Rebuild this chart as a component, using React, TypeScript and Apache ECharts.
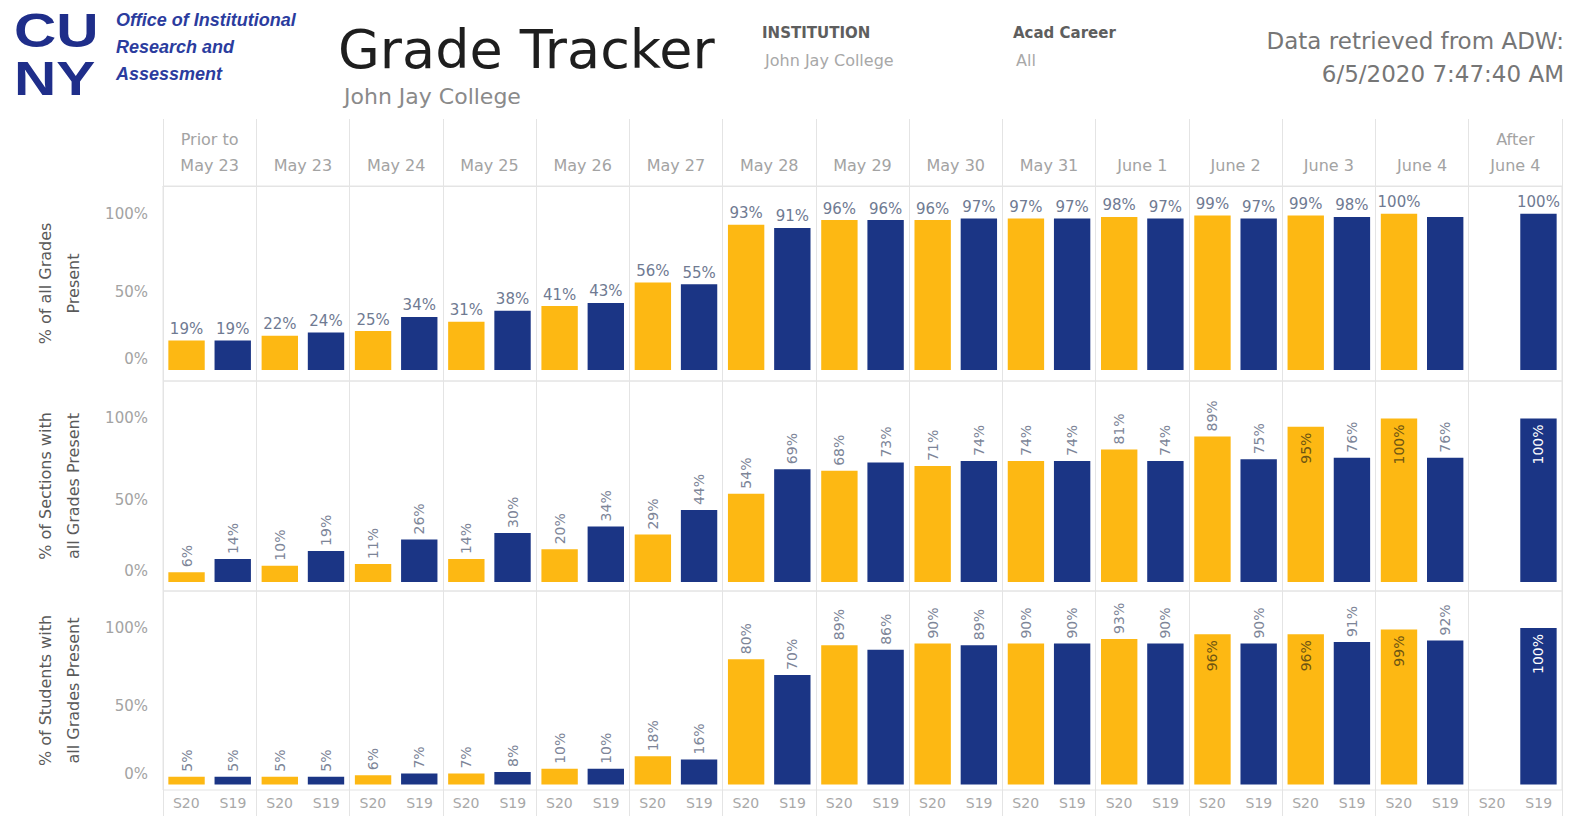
import React, { useEffect, useRef } from 'react';
import * as echarts from 'echarts';

// ---- data ----
const categories = [
  'Prior to\nMay 23', 'May 23', 'May 24', 'May 25', 'May 26', 'May 27', 'May 28',
  'May 29', 'May 30', 'May 31', 'June 1', 'June 2', 'June 3', 'June 4', 'After\nJune 4',
];
const termLabels = ['S20', 'S19'];

const s20Grades = [19, 22, 25, 31, 41, 56, 93, 96, 96, 97, 98, 99, 99, 100, null];
const s19Grades = [19, 24, 34, 38, 43, 55, 91, 96, 97, 97, 97, 97, 98, 98, 100];

const s20Sections = [6, 10, 11, 14, 20, 29, 54, 68, 71, 74, 81, 89, 95, 100, null];
const s19Sections = [14, 19, 26, 30, 34, 44, 69, 73, 74, 74, 74, 75, 76, 76, 100];

const s20Students = [5, 5, 6, 7, 10, 18, 80, 89, 90, 90, 93, 96, 96, 99, null];
const s19Students = [5, 5, 7, 8, 10, 16, 70, 86, 89, 90, 90, 90, 91, 92, 100];

const panelNames = [
  '% of all Grades\nPresent',
  '% of Sections with\nall Grades Present',
  '% of Students with\nall Grades Present',
];
const yTicks = [0, 50, 100];
const hiddenLabels = [{ panel: 0, term: 'S19', category: 'June 4' }];

const GOLD = '#FDB813';
const NAVY = '#1B3585';
const FONT = 'DejaVu Sans';

export default function App() {
  const ref = useRef<HTMLDivElement>(null);

  useEffect(() => {
    document.body.style.margin = '0';
    if (!ref.current) return;
    const chart = echarts.init(ref.current, undefined, { renderer: 'svg' });

    const panels = [
      { s20: s20Grades, s19: s19Grades, rotated: false, top: 186, height: 195, min: -7, max: 117.8 },
      { s20: s20Sections, s19: s19Sections, rotated: true, top: 381, height: 210, min: -5.5, max: 122.9 },
      { s20: s20Students, s19: s19Students, rotated: true, top: 591, height: 199, min: -3.5, max: 123.6 },
    ];

    const gridLeft = 163;
    const gridRight = 19;
    const lineColor = '#e4e4e4';

    const grids: any[] = [
      { left: gridLeft, right: gridRight, top: 119, height: 67, show: false },
      ...panels.map((p) => ({
        left: gridLeft, right: gridRight, top: p.top, height: p.height,
        show: true, borderColor: lineColor, borderWidth: 1,
      })),
      { left: gridLeft, right: gridRight, top: 790, height: 26, show: false },
    ];

    const xAxes: any[] = [
      {
        gridIndex: 0, type: 'category', data: categories, position: 'bottom',
        axisLine: { show: true, lineStyle: { color: lineColor } },
        axisTick: { show: false },
        axisLabel: { inside: true, margin: 8, color: '#a3a3a3', fontSize: 16, lineHeight: 26, fontFamily: FONT, interval: 0 },
        splitLine: { show: true, lineStyle: { color: lineColor } },
      },
      ...panels.map((_, i) => ({
        gridIndex: i + 1, type: 'category', data: categories,
        axisLine: { show: false }, axisTick: { show: false }, axisLabel: { show: false },
        splitLine: { show: true, lineStyle: { color: lineColor } },
      })),
      {
        gridIndex: 4, type: 'category', position: 'top',
        data: categories.flatMap(() => termLabels),
        axisLine: { show: false }, axisTick: { show: false },
        axisLabel: { inside: true, margin: 6, color: '#a8a8a8', fontSize: 14, fontFamily: FONT, interval: 0 },
        splitLine: { show: true, interval: (idx: number) => idx % 2 === 0, lineStyle: { color: lineColor } },
      },
    ];

    const yAxes: any[] = [
      { gridIndex: 0, type: 'value', show: false },
      ...panels.map((p, i) => ({
        gridIndex: i + 1, type: 'value', min: p.min, max: p.max,
        axisLine: { show: false }, axisTick: { show: false }, splitLine: { show: false },
        axisLabel: {
          customValues: yTicks, margin: 15, color: '#a3a3a3', fontSize: 15, fontFamily: FONT,
          formatter: (v: number) => (v === 0 ? '{z|0%}' : v + '%'),
          rich: { z: { padding: [0, 0, 22, 0], color: '#a3a3a3', fontSize: 15, fontFamily: FONT } },
        },
        name: panelNames[i], nameLocation: 'middle', nameRotate: 90, nameGap: 76,
        nameTextStyle: { color: '#5a5a5a', fontSize: 16, lineHeight: 28, fontFamily: FONT },
      })),
      { gridIndex: 4, type: 'value', show: false },
    ];

    const series: any[] = [];
    panels.forEach((p, pi) => {
      [p.s20, p.s19].forEach((vals, si) => {
        const term = termLabels[si];
        const data = vals.map((v, ci) => {
          if (v == null) return null;
          const hidden = hiddenLabels.some(
            (h) => h.panel === pi && h.term === term && h.category === categories[ci],
          );
          if (hidden) return { value: v, label: { show: false } };
          if (p.rotated && v >= 95) {
            return {
              value: v,
              label: {
                position: 'insideTop', align: 'right', verticalAlign: 'middle', distance: 6,
                color: si === 0 ? '#6e5512' : '#ffffff',
              },
            };
          }
          return v;
        });
        series.push({
          type: 'bar', name: term, xAxisIndex: pi + 1, yAxisIndex: pi + 1,
          barWidth: '39%', barGap: '27%',
          itemStyle: { color: si === 0 ? GOLD : NAVY },
          data,
          label: p.rotated
            ? {
                show: true, position: 'top', rotate: 90, align: 'left', verticalAlign: 'middle',
                distance: 5, color: '#7d8598', fontSize: 14, fontFamily: FONT,
                formatter: (d: any) => d.value + '%',
              }
            : {
                show: true, position: 'top', distance: 4, color: '#6f7a92', fontSize: 15, fontFamily: FONT,
                formatter: (d: any) => d.value + '%',
              },
        });
      });
    });

    const logoStyle = { fill: '#1F2E8A', fontSize: 48, fontWeight: 'bold', fontFamily: 'Liberation Sans', textVerticalAlign: 'middle' };
    const graphic: any[] = [
      { type: 'text', x: 14, y: 30, scaleX: 1.22, style: { text: 'CU', ...logoStyle } },
      { type: 'text', x: 14, y: 78, scaleX: 1.22, style: { text: 'NY', ...logoStyle } },
      { type: 'text', x: 116, y: 47, style: { text: 'Office of Institutional\nResearch and\nAssessment', fill: '#2B3C9E', fontSize: 18, lineHeight: 27, fontWeight: 'bold', fontStyle: 'italic', fontFamily: 'Liberation Sans', textVerticalAlign: 'middle' } },
      { type: 'text', x: 338, y: 49, style: { text: 'Grade Tracker', fill: '#1e1e1e', fontSize: 54, fontFamily: FONT, textVerticalAlign: 'middle' } },
      { type: 'text', x: 344, y: 96, style: { text: 'John Jay College', fill: '#8a8a8a', fontSize: 22, fontFamily: FONT, textVerticalAlign: 'middle' } },
      { type: 'text', x: 762, y: 33, style: { text: 'INSTITUTION', fill: '#5e5e5e', fontSize: 15, fontWeight: 'bold', fontFamily: FONT, textVerticalAlign: 'middle' } },
      { type: 'text', x: 765, y: 60, style: { text: 'John Jay College', fill: '#a8a8a8', fontSize: 16, fontFamily: FONT, textVerticalAlign: 'middle' } },
      { type: 'text', x: 1013, y: 33, style: { text: 'Acad Career', fill: '#5e5e5e', fontSize: 15, fontWeight: 'bold', fontFamily: FONT, textVerticalAlign: 'middle' } },
      { type: 'text', x: 1016, y: 60, style: { text: 'All', fill: '#a8a8a8', fontSize: 16, fontFamily: FONT, textVerticalAlign: 'middle' } },
      { type: 'text', x: 1564, y: 57, style: { text: 'Data retrieved from ADW:\n6/5/2020 7:47:40 AM', fill: '#767676', fontSize: 23, lineHeight: 33, fontFamily: FONT, textAlign: 'right', textVerticalAlign: 'middle' } },
    ];

    chart.setOption({
      animation: false,
      backgroundColor: '#ffffff',
      textStyle: { fontFamily: FONT },
      grid: grids,
      xAxis: xAxes,
      yAxis: yAxes,
      series,
      graphic,
    });

    return () => chart.dispose();
  }, []);

  return <div ref={ref} style={{ width: 1581, height: 829 }} />;
}
